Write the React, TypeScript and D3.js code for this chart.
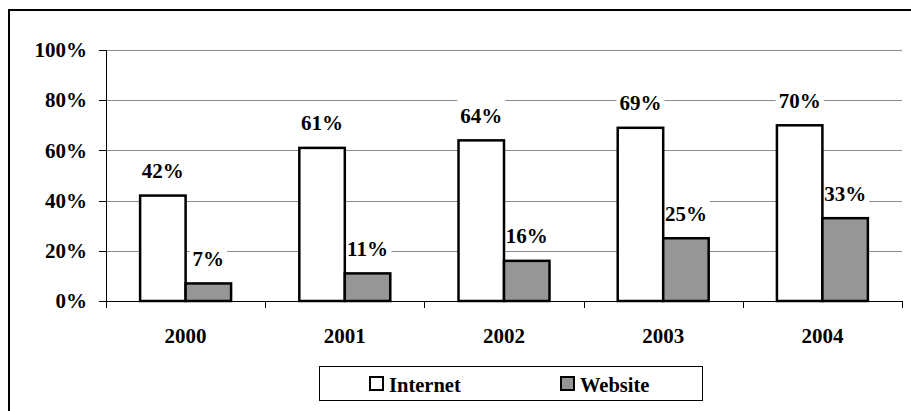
import React from "react";
import * as d3 from "d3";

const years = ["2000", "2001", "2002", "2003", "2004"];
const internet = [42, 61, 64, 69, 70];
const website = [7, 11, 16, 25, 33];
const yTicks = [0, 20, 40, 60, 80, 100];
const seriesNames = ["Internet", "Website"];
const seriesFills = ["#ffffff", "#969696"];

const W = 911;
const H = 411;
const left = 106;
const right = 902;
const top = 50;
const bottom = 301;
const FONT = "Liberation Serif";

export default function App() {
  const x = d3.scaleBand<string>().domain(years).range([left, right]).padding(0);
  const y = d3.scaleLinear().domain([0, 100]).range([bottom, top]);
  const band = x.bandwidth();
  // two bars per category with a 150% gap between groups
  const barW = band / 3.5;
  const series = [internet, website];
  const barX = (i: number, s: number) => (x(years[i]) as number) + barW * 0.75 + s * barW;

  const labelW = (s: string) => (s.length - 1) * 10.5 + 21 + 6;

  return (
    <svg width={W} height={H} style={{ position: "absolute", left: 0, top: 0, background: "#fff" }}>
      <rect x={9} y={10} width={W + 20} height={H + 20} fill="#fff" stroke="#000" strokeWidth={2} />

      {/* gridlines */}
      {yTicks.filter((t) => t > 0).map((t) => (
        <line key={t} x1={left} x2={right} y1={Math.round(y(t)) + 0.5} y2={Math.round(y(t)) + 0.5} stroke="#8c8c8c" strokeWidth={1} />
      ))}

      {/* label backgrounds hide the gridlines behind the value labels */}
      {years.map((yr, i) =>
        series.map((vals, s) => {
          const cx = barX(i, s) + barW / 2;
          const base = y(vals[i]) - 17.5;
          const w = labelW(`${vals[i]}%`);
          return <rect key={"b" + yr + s} x={cx - w / 2} y={base - 23} width={w} height={27} fill="#fff" />;
        })
      )}

      {/* bars */}
      {years.map((yr, i) =>
        series.map((vals, s) => (
          <rect
            key={yr + s}
            x={barX(i, s)}
            y={y(vals[i])}
            width={barW}
            height={bottom - y(vals[i])}
            fill={seriesFills[s]}
            stroke="#000"
            strokeWidth={2.5}
          />
        ))
      )}

      {/* axes */}
      <line x1={left + 0.5} x2={left + 0.5} y1={top} y2={bottom} stroke="#000" strokeWidth={1} />
      <line x1={left} x2={right} y1={bottom + 0.5} y2={bottom + 0.5} stroke="#000" strokeWidth={1} />
      {yTicks.map((t) => (
        <g key={t}>
          <line x1={99} x2={left} y1={Math.round(y(t)) + 0.5} y2={Math.round(y(t)) + 0.5} stroke="#000" strokeWidth={1} />
          <text x={87} y={y(t)} dy="0.34em" textAnchor="end" fontSize={21} fontFamily={FONT} fontWeight="bold">
            {t}%
          </text>
        </g>
      ))}
      {[...years.map((yr) => x(yr) as number), right].map((px, i) => (
        <line key={i} x1={Math.round(px) + 0.5} x2={Math.round(px) + 0.5} y1={bottom} y2={bottom + 7} stroke="#000" strokeWidth={1} />
      ))}
      {years.map((yr) => (
        <text key={yr} x={(x(yr) as number) + band / 2} y={343} textAnchor="middle" fontSize={21} fontFamily={FONT} fontWeight="bold">
          {yr}
        </text>
      ))}

      {/* value labels */}
      {years.map((yr, i) =>
        series.map((vals, s) => (
          <text key={"l" + yr + s} x={barX(i, s) + barW / 2} y={y(vals[i]) - 17.5} textAnchor="middle" fontSize={21} fontFamily={FONT} fontWeight="bold">
            {`${vals[i]}%`}
          </text>
        ))
      )}

      {/* legend */}
      <rect x={319.5} y={366.5} width={383} height={34} fill="#fff" stroke="#000" strokeWidth={1} />
      {seriesNames.map((name, s) => {
        const lx = s === 0 ? 370 : 561;
        return (
          <g key={name}>
            <rect x={lx} y={377} width={13} height={13} fill={seriesFills[s]} stroke="#000" strokeWidth={2} />
            <text x={lx + 19} y={392} fontSize={20.5} fontFamily={FONT} fontWeight="bold">
              {name}
            </text>
          </g>
        );
      })}
    </svg>
  );
}
